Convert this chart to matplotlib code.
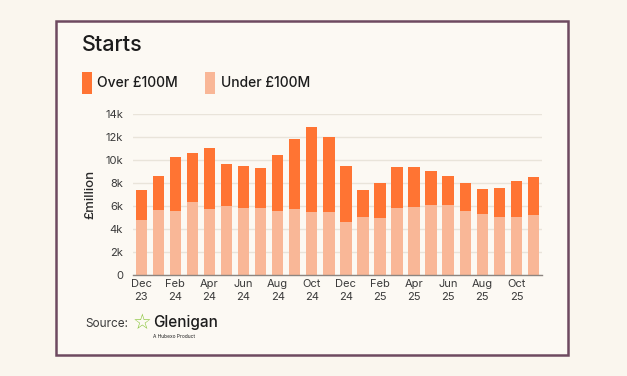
import matplotlib.pyplot as plt
import matplotlib.patches as mpatches
import numpy as np

plt.rcParams['font.family'] = ['Inter', 'DejaVu Sans']

months = ['Dec\n23', 'Jan\n24', 'Feb\n24', 'Mar\n24', 'Apr\n24', 'May\n24', 'Jun\n24', 'Jul\n24',
          'Aug\n24', 'Sep\n24', 'Oct\n24', 'Nov\n24', 'Dec\n24', 'Jan\n25', 'Feb\n25', 'Mar\n25',
          'Apr\n25', 'May\n25', 'Jun\n25', 'Jul\n25', 'Aug\n25', 'Sep\n25', 'Oct\n25', 'Nov\n25']
total = [7400, 8650, 10250, 10600, 11030, 9640, 9490, 9350, 10420, 11880, 12860, 12020,
         9520, 7400, 8010, 9410, 9440, 9090, 8600, 8010, 7460, 7550, 8220, 8510]
under = [4790, 5630, 5550, 6330, 5750, 6040, 5860, 5840, 5550, 5720, 5460, 5460,
         4620, 5020, 4990, 5860, 5920, 6130, 6070, 5600, 5280, 5020, 5020, 5230]
over = [t - u for t, u in zip(total, under)]

dark = '#FF7433'
light = '#F9B797'
bg = '#FCF9F3'

fig = plt.figure(figsize=(6.27, 3.76), dpi=100)
fig.patch.set_facecolor('#FAF6EE')

# framed card
card = mpatches.Rectangle((56 / 627, 1 - 355 / 376), (568 - 56) / 627, (355 - 21) / 376,
                          transform=fig.transFigure, facecolor=bg, edgecolor='#6E4A60',
                          linewidth=1.8, zorder=-10)
fig.patches.append(card)

ax = fig.add_axes([132.7 / 627, 101 / 376, (542 - 132.7) / 627, (275 - 114.3) / 376])
ax.set_facecolor('none')
x = np.arange(len(months))
ax.bar(x, under, width=0.67, color=light, zorder=2)
ax.bar(x, over, width=0.67, bottom=under, color=dark, zorder=2)

ax.set_xlim(-0.5, len(months) - 0.5)
ax.set_ylim(0, 14000)
ax.set_yticks(range(0, 14001, 2000))
ax.set_yticklabels(['0'] + [f'{v}k' for v in range(2, 15, 2)])
ax.set_xticks(x[::2])
ax.set_xticklabels(months[::2], linespacing=1.35)
ax.tick_params(axis='both', length=0, labelsize=8, colors='#3a3a3a')
ax.tick_params(axis='x', pad=3)
ax.tick_params(axis='y', pad=7)
ax.grid(axis='y', color='#E9E4DA', linewidth=1, zorder=0)
for s in ['top', 'right', 'left']:
    ax.spines[s].set_visible(False)
ax.spines['bottom'].set_color('#8C8580')
ax.spines['bottom'].set_linewidth(1)
ax.spines['bottom'].set_zorder(3)
ax.set_ylabel('£million', fontsize=9.5, color='#2a2a2a', labelpad=6, fontweight='medium')

# title and legend
fig.text(82 / 627, 1 - 51 / 376, 'Starts', fontsize=15.5, color='#1c1c1c', va='baseline',
         fontweight='medium')
fig.patches.append(mpatches.Rectangle((82 / 627, 1 - 94 / 376), 10 / 627, 22 / 376,
                                      transform=fig.transFigure, facecolor=dark, edgecolor='none'))
fig.patches.append(mpatches.Rectangle((205 / 627, 1 - 94 / 376), 10 / 627, 22 / 376,
                                      transform=fig.transFigure, facecolor=light, edgecolor='none'))
fig.text(97 / 627, 1 - 83 / 376, 'Over £100M', fontsize=10, color='#1c1c1c', va='center',
         fontweight='medium')
fig.text(221 / 627, 1 - 83 / 376, 'Under £100M', fontsize=10, color='#1c1c1c', va='center',
         fontweight='medium')

# source line
fig.text(85 / 627, 1 - 324 / 376, 'Source:', fontsize=8.5, color='#3a3a3a', va='center')
fig.text(133 / 627, 1 - 323 / 376, '☆', fontsize=15, color='#8CC63F', va='center',
         family='DejaVu Sans', fontweight='bold')
fig.text(153 / 627, 1 - 323 / 376, 'Glenigan', fontsize=11, color='#1c1c1c', va='center',
         fontweight='medium')
fig.text(153 / 627, 1 - 337 / 376, 'A Hubexo Product', fontsize=3.5, color='#1c1c1c', va='center')

fig.savefig('out.png', dpi=100, facecolor=fig.get_facecolor())
